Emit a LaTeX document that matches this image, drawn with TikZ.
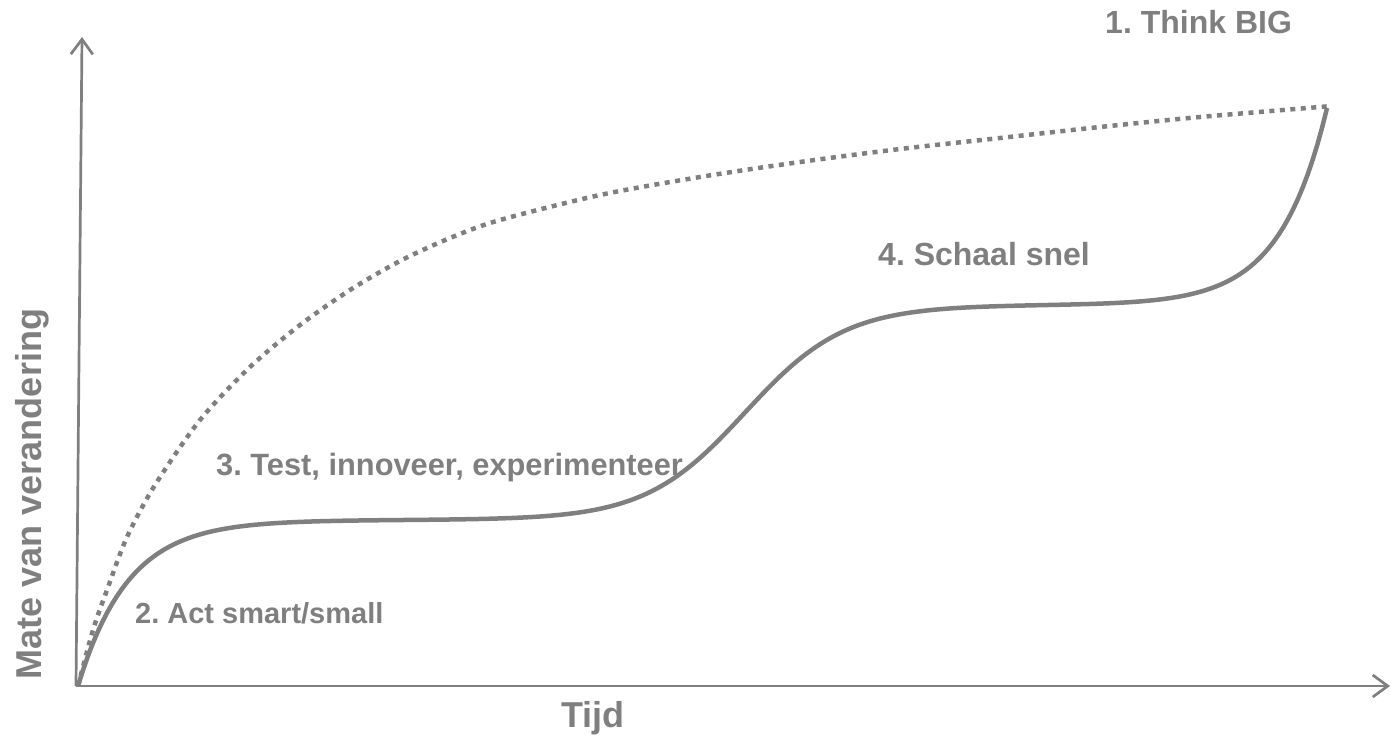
\documentclass[tikz,border=0pt]{standalone}
\usepackage{fontspec}
\setmainfont{Liberation Sans}
\usetikzlibrary{arrows.meta}
\definecolor{cgray}{HTML}{7F7F7F}
\frenchspacing
\begin{document}
\begin{tikzpicture}[x=1pt,y=-1pt,
  axis/.style={draw=cgray,line width=2.7pt,-{Straight Barb[length=15pt,width=22pt]}},
  solidcurve/.style={draw=cgray,line width=4.5pt,line cap=butt},
  dotcurve/.style={draw=cgray,line width=4.5pt,dash pattern=on 5pt off 5.5pt},
  lbl/.style={text=cgray,font=\bfseries,inner sep=0pt}]
\useasboundingbox (0,0) rectangle (1391,737);
\coordinate (O) at (76,686);
\coordinate (ytip) at (82,37);
\coordinate (xtip) at (1390,686);
\draw[axis] (O) -- (ytip);
\draw[axis] (O) -- (xtip);
\draw[solidcurve] plot[domain=78:1327,samples=260]
  (\x,{686 - 166*(1-exp(max(-(\x-78)/50,-9))) - 215/(1+exp(min((745-\x)/50,9))) - 197*exp(max((\x-1327)/47,-9))});
\draw[dotcurve] plot[smooth,tension=0.5] coordinates {(78,686) (93,630) (107,590) (127,537) (155,485) (200,420) (250,367) (300,325) (350,290) (400,261) (450,238) (500,220) (600,195) (700,177) (800,162) (900,149) (1000,138) (1100,127) (1200,117) (1332,106)};
\node[lbl,anchor=base west,font=\bfseries\fontsize{32}{38}\selectfont] (l1) at (1105,33) {1. Think BIG};
\node[lbl,anchor=base west,font=\bfseries\fontsize{32}{38}\selectfont] (l4) at (878,265) {4. Schaal snel};
\node[lbl,anchor=base west,font=\bfseries\fontsize{30.8}{36}\selectfont] (l3) at (216,475) {3. Test, innoveer, experimenteer};
\node[lbl,anchor=base west,font=\bfseries\fontsize{29}{35}\selectfont] (l2) at (135,623) {2. Act smart/small};
\node[lbl,anchor=base,font=\bfseries\fontsize{36}{42}\selectfont] (tx) at (593,727) {Tijd};
\node[lbl,anchor=base,rotate=90,font=\bfseries\fontsize{36}{42}\selectfont] (ty) at (41,494) {Mate van verandering};
\end{tikzpicture}
\end{document}
